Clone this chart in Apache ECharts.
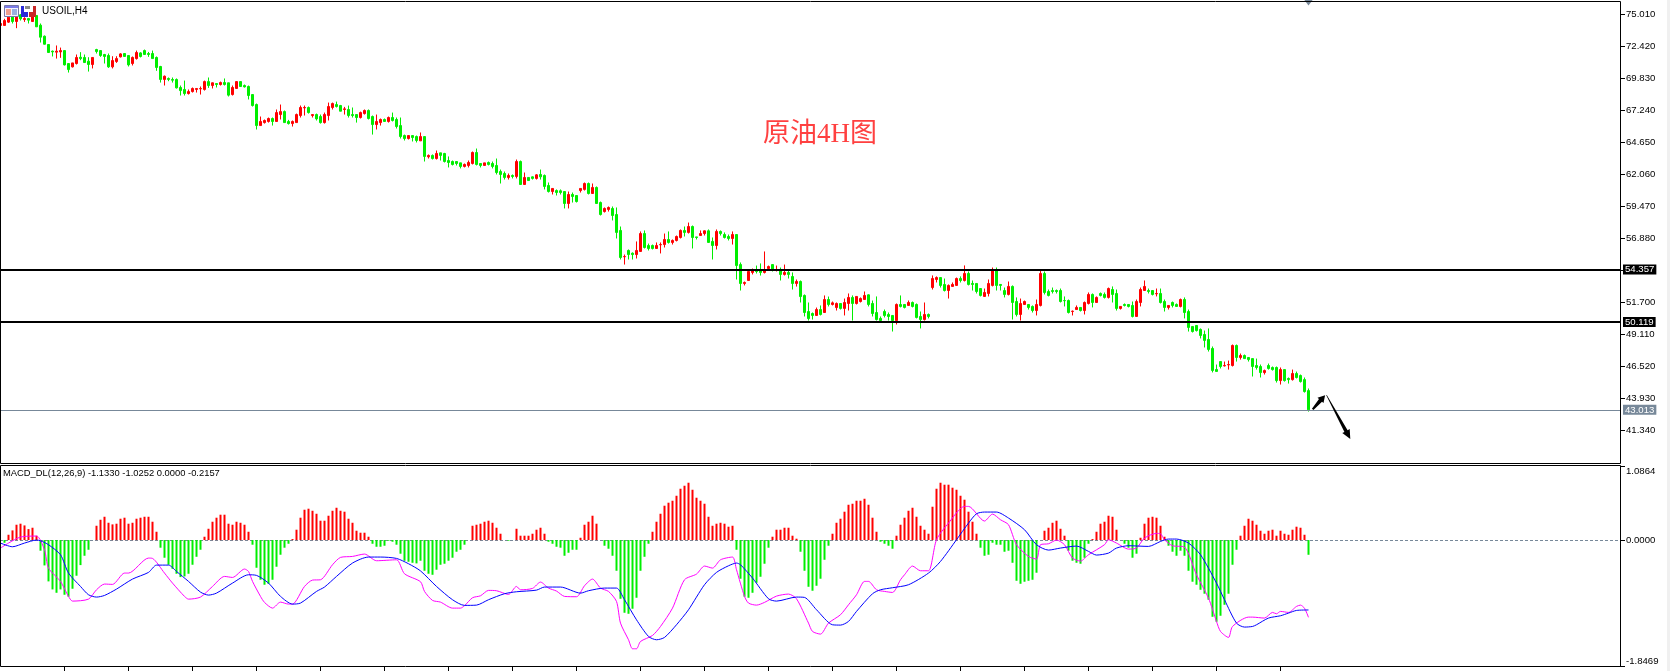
<!DOCTYPE html>
<html>
<head>
<meta charset="utf-8">
<title>USOIL,H4</title>
<style>html,body{margin:0;padding:0;background:#fff;overflow:hidden}#chart{width:1670px;height:671px}</style>
<script src="https://cdn.jsdelivr.net/npm/echarts@6/dist/echarts.min.js"></script>
</head>
<body>
<div id="chart"></div>
<script>
// Four-hour USOIL candles, each row is [open, close, low, high].
const candles = [
[74.12,74.28,74.12,74.39],[74.12,74.52,74.12,74.66],[74.39,74.79,74.33,74.87],[74.87,74.44,74.28,74.93],[74.44,74.87,73.90,74.93],
[74.98,74.66,74.52,75.03],[74.60,74.68,74.41,74.79],[74.68,74.55,74.28,74.68],[74.44,74.87,74.44,75.09],[74.93,74.01,74.01,74.93],
[74.14,73.17,72.74,74.28],[73.25,72.60,72.58,73.31],[72.58,71.93,71.93,72.58],[72.04,71.98,71.61,72.09],[71.96,72.04,71.44,72.50],
[71.98,72.09,71.50,72.33],[72.09,70.93,70.88,72.09],[71.04,70.55,70.31,71.04],[70.77,71.09,70.72,71.09],[71.04,71.53,70.96,71.77],
[71.55,71.44,71.31,71.96],[71.53,71.12,71.12,71.77],[71.23,70.96,70.39,71.55],[70.96,71.53,70.64,71.53],[72.17,72.01,71.85,72.23],
[72.09,71.69,71.58,72.09],[71.77,71.61,71.04,71.82],[71.69,70.77,70.69,71.85],[70.77,71.28,70.64,71.63],[71.20,71.44,71.09,71.63],
[71.58,71.82,71.53,71.88],[71.85,71.61,71.61,71.85],[71.69,70.93,70.80,71.69],[71.04,71.53,70.88,71.61],[71.44,71.93,71.36,72.09],
[71.90,71.61,71.53,71.96],[72.09,71.77,71.74,72.17],[71.85,71.77,71.58,71.98],[71.85,71.44,71.44,72.09],[71.53,70.72,70.45,71.61],
[70.80,69.75,69.50,70.85],[69.75,70.01,69.26,70.07],[69.83,69.75,69.61,69.91],[69.75,69.69,69.50,69.91],[69.75,69.07,69.02,69.83],
[69.10,68.85,68.45,69.26],[68.94,68.61,68.45,69.66],[68.61,68.77,68.53,68.94],[68.77,69.02,68.69,69.10],[68.94,69.02,68.69,69.02],
[68.99,69.02,68.53,69.18],[68.94,69.58,68.85,69.66],[69.58,69.26,69.07,69.91],[69.26,69.48,69.02,69.50],[69.42,69.34,69.10,69.42],
[69.34,69.50,69.26,69.58],[69.50,69.34,69.26,69.83],[69.48,68.48,68.37,69.48],[68.53,69.10,68.45,69.26],[69.02,69.58,69.02,69.58],
[69.58,69.18,69.18,69.58],[69.26,69.15,69.10,69.34],[69.18,68.45,68.13,69.26],[68.53,67.64,67.56,68.53],[67.72,66.02,65.70,67.80],
[66.02,66.35,66.02,66.75],[66.26,66.43,66.18,66.51],[66.35,66.59,66.26,66.67],[66.59,66.35,66.02,66.67],[66.35,67.07,66.35,67.32],
[66.91,67.15,66.51,67.72],[67.15,66.26,66.26,67.24],[66.35,66.18,66.10,66.48],[66.18,66.35,65.94,66.43],[66.26,66.91,66.26,66.99],
[66.83,67.48,66.67,67.64],[67.45,67.48,66.83,67.64],[67.48,67.07,66.99,67.56],[66.83,66.91,66.67,66.91],[66.91,66.56,66.43,66.99],
[66.75,66.26,66.18,66.91],[66.26,66.91,66.18,67.07],[66.83,67.56,66.43,67.88],[67.48,67.80,67.32,67.88],[67.72,67.56,67.48,67.96],
[67.64,67.18,67.18,67.69],[67.32,67.37,66.91,67.53],[67.32,66.83,66.67,67.64],[66.91,66.83,66.67,67.48],[66.91,66.67,66.26,66.91],
[66.67,67.07,66.59,67.15],[66.99,67.24,66.91,67.32],[67.24,66.59,66.51,67.32],[66.75,66.10,65.29,66.83],[66.10,66.35,65.70,66.91],
[66.26,66.51,66.02,66.59],[66.51,66.35,66.35,66.59],[66.35,66.67,66.26,66.75],[66.67,66.43,66.35,67.07],[66.51,65.94,65.78,66.67],
[66.02,65.13,64.97,66.67],[65.21,64.97,64.81,65.29],[64.97,65.21,64.89,65.21],[65.21,65.05,64.73,65.21],[65.13,64.81,64.65,65.21],
[64.78,65.13,64.78,65.46],[65.13,63.52,63.11,65.13],[63.49,63.60,63.35,63.68],[63.60,63.35,63.27,63.68],[63.35,63.76,63.27,64.00],
[63.81,63.60,63.19,63.81],[63.76,63.11,63.03,63.81],[63.19,63.03,62.63,63.52],[63.11,62.87,62.79,63.19],[63.11,62.95,62.79,63.11],
[63.00,62.71,62.55,63.00],[62.71,62.87,62.63,62.95],[62.79,63.03,62.63,63.19],[62.95,63.84,62.87,63.92],[63.84,62.87,62.79,64.16],
[62.95,62.79,62.63,62.95],[62.79,63.00,62.79,63.00],[63.03,62.87,62.79,63.11],[62.95,62.71,62.55,63.11],[62.79,62.22,62.06,63.35],
[62.30,62.06,61.33,62.46],[62.14,61.82,61.65,62.30],[61.82,61.98,61.65,62.14],[61.98,61.90,61.74,62.06],[61.90,63.11,61.74,63.27],
[63.11,61.25,61.25,63.19],[61.25,61.82,61.25,62.22],[61.82,61.57,61.57,61.82],[61.87,61.74,61.65,61.90],[61.74,62.03,61.65,62.09],
[62.06,61.87,61.65,62.46],[61.98,61.09,60.85,62.06],[61.17,60.68,60.60,61.41],[60.68,60.93,60.44,60.93],[60.76,60.60,60.36,60.85],
[60.74,60.60,60.44,60.85],[60.68,59.71,59.31,60.68],[59.71,60.44,59.31,60.68],[60.44,60.28,59.79,60.60],[60.36,59.87,59.79,60.36],
[60.76,60.93,60.60,60.93],[60.85,61.33,60.76,61.41],[61.33,60.52,60.44,61.41],[60.52,61.01,60.52,61.33],[61.01,59.71,59.71,61.09],
[59.79,58.82,58.74,59.87],[59.06,59.31,58.98,59.39],[59.23,59.39,59.06,59.47],[59.31,58.74,58.34,59.47],[58.82,57.37,56.88,59.39],
[57.53,55.34,55.18,57.85],[55.40,55.42,54.77,55.58],[55.91,55.58,55.18,55.99],[55.69,55.58,55.18,55.75],[55.58,55.91,55.26,56.64],
[55.83,57.28,55.83,57.45],[57.28,56.15,56.07,57.53],[56.31,56.07,55.91,56.47],[56.31,56.07,55.99,56.39],[56.07,56.31,56.07,56.56],
[56.37,56.39,55.67,56.56],[56.39,56.80,56.15,57.28],[56.80,56.56,56.47,57.45],[56.56,56.72,56.39,56.80],[56.72,57.04,56.64,57.12],
[56.96,57.53,56.88,57.61],[57.53,57.37,57.04,57.85],[57.37,57.85,57.28,58.17],[57.85,56.96,56.07,57.93],[57.01,56.96,56.80,57.01],
[57.12,57.28,57.12,57.53],[57.28,57.50,57.12,57.53],[57.50,56.56,56.56,57.61],[56.64,56.31,55.18,56.96],[56.31,57.45,55.99,57.61],
[57.45,57.28,57.12,57.53],[57.20,56.96,56.88,57.37],[57.04,56.88,56.72,57.20],[56.88,57.20,56.39,57.45],[57.20,54.69,53.56,57.20],
[54.77,53.24,52.67,54.94],[53.24,53.32,53.08,53.40],[53.48,54.21,53.48,54.29],[54.13,54.29,53.97,54.45],[54.29,54.21,54.05,54.69],
[54.37,54.13,53.88,54.86],[54.13,54.29,54.05,55.83],[54.45,54.61,54.37,54.69],[54.77,54.37,54.21,54.77],[54.34,54.37,54.21,54.69],
[54.37,53.97,53.48,54.53],[53.97,54.13,53.88,54.77],[54.13,53.97,53.64,54.29],[53.80,53.24,52.75,54.13],[53.24,53.40,52.99,53.56],
[53.40,52.18,51.70,53.48],[52.27,50.89,50.57,52.35],[50.97,50.40,50.24,51.70],[50.81,50.65,50.32,50.89],[50.65,51.13,50.65,51.29],
[51.13,50.73,50.65,51.46],[50.89,51.94,50.89,52.27],[51.94,51.54,51.38,52.18],[51.54,51.67,51.46,51.78],[51.29,51.62,51.05,51.70],
[51.62,51.22,51.13,51.62],[51.22,51.70,50.65,52.02],[51.62,52.11,51.05,52.43],[52.11,51.62,50.24,52.27],[51.62,52.19,51.54,52.19],
[51.78,52.02,51.70,52.11],[51.94,52.27,51.94,52.59],[52.32,51.54,51.38,52.35],[51.62,50.81,50.57,51.86],[50.89,50.32,50.24,52.19],
[50.41,50.24,50.24,50.57],[50.97,50.65,50.49,51.13],[50.73,50.57,50.24,50.89],[50.65,50.24,49.35,50.65],[50.24,51.54,49.92,51.62],
[51.54,51.38,51.30,52.27],[51.54,51.30,51.22,51.54],[51.46,51.70,51.46,51.86],[51.70,51.38,51.30,51.78],[51.54,50.49,50.41,51.62],
[50.57,50.32,49.60,50.97],[50.32,50.73,50.24,51.70],[50.73,50.57,50.41,50.81],[52.91,53.64,52.75,53.89],[53.56,53.72,53.32,53.81],
[53.72,53.08,52.91,53.72],[53.16,52.67,52.59,53.64],[52.67,53.08,52.02,53.16],[53.00,53.16,53.00,53.32],[53.08,53.64,53.08,53.72],
[53.64,53.48,53.32,53.81],[53.48,54.05,53.40,54.70],[54.05,53.16,53.08,54.21],[53.24,53.16,52.67,53.48],[53.24,52.59,52.43,53.24],
[52.83,52.27,52.19,52.83],[52.19,52.51,52.19,52.83],[52.43,53.24,52.19,53.56],[53.08,54.37,53.00,54.53],[54.37,53.08,52.67,54.53],
[53.16,53.08,52.67,53.16],[52.67,52.35,52.11,52.91],[52.35,53.00,52.27,53.40],[53.00,51.70,50.32,53.08],[51.78,50.73,50.57,52.11],
[50.73,51.62,50.24,52.02],[51.54,51.78,51.54,51.86],[51.54,51.30,51.13,51.54],[51.38,51.05,50.89,51.46],[51.05,51.54,50.65,51.94],
[51.46,54.05,51.38,54.29],[54.05,52.51,52.35,54.21],[52.59,52.27,52.19,52.75],[52.67,52.59,52.43,52.91],[52.67,52.59,52.43,52.75],
[52.67,51.78,51.70,52.83],[51.86,51.84,51.38,52.19],[51.86,50.89,50.81,51.94],[50.97,51.00,50.65,51.05],[51.13,51.30,51.13,51.46],
[51.30,51.05,50.97,51.30],[51.05,51.70,50.73,51.78],[51.62,52.35,51.54,52.51],[52.35,51.70,51.30,52.43],[51.70,52.11,51.70,52.19],
[52.43,52.27,52.19,52.51],[52.35,52.11,52.02,52.51],[52.11,52.83,52.02,52.91],[52.75,52.35,51.70,53.00],[52.43,51.22,51.05,52.75],
[51.22,51.38,51.13,51.38],[51.54,51.46,51.38,51.62],[51.54,51.38,51.30,51.54],[51.46,50.57,50.49,51.78],[50.57,51.78,50.57,51.94],
[51.70,52.75,51.38,52.91],[52.67,53.00,52.67,53.48],[52.67,52.59,52.43,52.83],[52.67,52.35,52.27,52.67],[52.40,52.43,52.19,52.83],
[52.43,51.70,51.62,52.83],[51.78,51.30,50.97,51.94],[51.30,51.46,51.13,51.46],[51.70,51.46,51.30,51.78],[51.54,51.38,51.38,51.62],
[51.38,51.94,51.30,52.02],[51.94,50.89,50.41,52.11],[50.97,49.68,49.35,51.13],[49.76,49.35,49.27,49.76],[49.84,49.43,49.35,49.84],
[49.52,49.03,48.79,49.60],[49.11,48.63,48.06,49.43],[48.71,47.90,47.73,49.60],[47.98,46.20,46.04,48.14],[46.28,46.12,46.12,46.68],
[46.92,46.52,46.36,46.92],[46.57,46.60,46.52,46.92],[46.65,46.68,46.27,47.00],[46.60,48.22,46.52,48.30],[48.22,47.25,46.92,48.30],
[47.25,47.41,47.08,47.57],[47.41,47.16,47.16,47.49],[47.25,47.08,46.92,47.25],[47.16,46.52,45.71,47.16],[46.60,46.44,46.27,47.16],
[46.52,46.03,45.63,46.68],[46.03,46.19,45.87,46.27],[46.60,46.36,46.27,46.76],[46.44,46.27,46.19,46.52],[46.44,45.38,45.22,46.52],
[45.38,46.27,45.06,46.44],[46.27,45.38,45.30,46.27],[45.55,45.46,45.14,45.63],[45.46,45.95,45.38,46.27],[45.95,45.63,45.55,46.11],
[45.79,45.30,45.22,45.87],[45.46,44.49,44.41,45.63],[44.57,43.013,42.87,44.74]
];

// MACD histogram, one value per candle.
const histogram = [
0,-0.039,0.078,0.142,0.225,0.240,0.215,0.161,0.181,0.064,-0.156,-0.372,-0.606,-0.724,-0.773,-0.724,-0.802,-0.831,-0.714,-0.523,
-0.367,-0.230,-0.142,0,0.210,0.298,0.342,0.254,0.230,0.240,0.313,0.328,0.240,0.254,0.313,0.328,0.342,0.342,0.269,0.122,
-0.112,-0.259,-0.362,-0.421,-0.494,-0.543,-0.533,-0.494,-0.362,-0.245,-0.142,0.049,0.166,0.269,0.328,0.372,0.372,0.240,0.225,0.269,
0.254,0.225,0.122,-0.068,-0.406,-0.582,-0.655,-0.641,-0.582,-0.391,-0.215,-0.112,-0.054,0.015,0.152,0.328,0.445,0.460,0.430,0.386,
0.284,0.284,0.357,0.430,0.474,0.430,0.416,0.313,0.254,0.137,0.108,0.108,0.049,-0.054,-0.098,-0.098,-0.083,-0.010,-0.024,-0.068,
-0.200,-0.303,-0.318,-0.333,-0.342,-0.303,-0.450,-0.494,-0.509,-0.435,-0.362,-0.347,-0.303,-0.259,-0.171,-0.142,-0.068,0,0.210,0.225,
0.240,0.269,0.284,0.254,0.181,0.093,0,-0.010,0,0.166,0.064,0.064,0.064,0.093,0.152,0.181,0.093,-0.024,-0.054,-0.098,
-0.112,-0.230,-0.186,-0.142,-0.142,0.034,0.225,0.269,0.357,0.240,0,-0.083,-0.127,-0.230,-0.450,-0.861,-1.066,-1.081,-1.007,-0.846,
-0.450,-0.245,-0.054,0.122,0.269,0.386,0.504,0.548,0.577,0.650,0.753,0.797,0.841,0.738,0.621,0.577,0.533,0.342,0.210,0.240,
0.254,0.240,0.196,0.210,-0.142,-0.567,-0.831,-0.846,-0.773,-0.626,-0.538,-0.347,-0.112,0.049,0.152,0.152,0.181,0.181,0.064,0.020,
-0.171,-0.450,-0.685,-0.743,-0.670,-0.567,-0.289,-0.083,0.093,0.254,0.313,0.416,0.518,0.533,0.577,0.577,0.606,0.518,0.328,0.122,
-0.024,-0.054,-0.083,-0.127,0.064,0.225,0.328,0.430,0.474,0.342,0.210,0.152,0.093,0.489,0.753,0.841,0.812,0.812,0.768,0.738,
0.650,0.592,0.416,0.269,0.093,-0.112,-0.230,-0.215,-0.039,-0.068,-0.068,-0.171,-0.156,-0.333,-0.597,-0.641,-0.611,-0.597,-0.582,-0.479,
0,0.137,0.181,0.254,0.284,0.166,0.064,-0.156,-0.303,-0.333,-0.347,-0.259,-0.054,0.015,0.122,0.240,0.269,0.357,0.342,0.152,
0,-0.054,-0.112,-0.259,-0.200,0.034,0.240,0.328,0.342,0.328,0.210,0.049,-0.083,-0.171,-0.230,-0.156,-0.230,-0.450,-0.611,-0.655,
-0.729,-0.787,-0.875,-1.125,-1.198,-1.110,-0.949,-0.787,-0.362,-0.142,0.064,0.210,0.313,0.284,0.225,0.137,0.093,0.137,0.152,0.064,
0.137,0.093,0.078,0.152,0.196,0.181,0.078,-0.2157
];

// MACD main line, as [candle index, value].
const macdLine = [
[0,-0.117],[2,-0.044],[5,0.044],[9,0.059],[11,-0.142],[12,-0.411],[15,-0.606],[17,-0.826],[18,-0.895],[22,-0.866],[24,-0.729],[26,-0.645],[28,-0.650],
[31,-0.484],[32,-0.484],[37,-0.264],[38,-0.269],[41,-0.484],[43,-0.631],[46,-0.826],[47,-0.866],[50,-0.836],[53,-0.680],[56,-0.533],[58,-0.548],
[61,-0.425],[62,-0.460],[63,-0.606],[65,-0.826],[66,-0.914],[68,-0.998],[70,-0.910],[72,-0.939],[73,-0.939],[76,-0.680],[78,-0.587],[80,-0.582],
[83,-0.362],[85,-0.254],[88,-0.240],[91,-0.205],[94,-0.303],[99,-0.289],[101,-0.494],[105,-0.611],[106,-0.753],[108,-0.885],[110,-0.910],[113,-0.998],
[115,-0.998],[116,-0.963],[118,-0.846],[120,-0.817],[122,-0.738],[124,-0.743],[127,-0.797],[129,-0.680],[130,-0.729],[133,-0.709],[135,-0.616],
[137,-0.704],[139,-0.748],[141,-0.826],[144,-0.831],[146,-0.670],[148,-0.572],[150,-0.704],[152,-0.753],[154,-0.900],[155,-1.218],[157,-1.462],
[158,-1.594],[159,-1.594],[160,-1.487],[163,-1.399],[165,-1.267],[168,-0.998],[171,-0.582],[174,-0.499],[176,-0.381],[178,-0.411],[180,-0.289],
[183,-0.249],[184,-0.435],[186,-0.826],[187,-0.924],[189,-0.954],[191,-0.914],[194,-0.822],[197,-0.792],[199,-0.861],[202,-1.218],[203,-1.340],
[205,-1.379],[207,-1.218],[210,-1.095],[212,-0.949],[214,-0.802],[216,-0.606],[217,-0.606],[219,-0.729],[221,-0.753],[223,-0.768],[225,-0.582],
[226,-0.509],[228,-0.381],[230,-0.450],[232,-0.450],[234,0.005],[237,0.249],[241,0.494],[242,0.494],[246,0.279],[248,0.381],[250,0.298],[252,0.225],
[254,-0.068],[257,-0.240],[259,-0.279],[260,-0.068],[262,-0.054],[264,0],[266,-0.068],[268,-0.264],[270,-0.308],[272,-0.215],[276,-0.068],[277,0.005],
[279,-0.044],[282,-0.132],[284,-0.117],[286,0.029],[289,0.098],[290,0.093],[291,0.005],[293,-0.083],[296,-0.103],[299,-0.509],[302,-0.851],[304,-1.193],
[305,-1.340],[307,-1.428],[308,-1.267],[312,-1.130],[313,-1.130],[316,-1.144],[318,-1.061],[319,-1.081],[320,-1.046],[322,-1.061],[324,-0.973],
[325,-0.954],[326,-1.000],[327,-1.133]
];

// MACD signal line, as [candle index, value].
const signalLine = [
[0,-0.044],[3,-0.098],[6,-0.044],[9,0],[10,-0.010],[12,-0.068],[15,-0.215],[17,-0.484],[20,-0.680],[22,-0.802],[24,-0.836],[26,-0.812],[29,-0.719],
[33,-0.572],[37,-0.474],[39,-0.367],[42,-0.367],[44,-0.460],[47,-0.606],[50,-0.763],[52,-0.807],[54,-0.778],[58,-0.631],[62,-0.509],[64,-0.518],
[67,-0.631],[70,-0.826],[73,-0.939],[75,-0.924],[79,-0.753],[81,-0.689],[84,-0.533],[88,-0.337],[92,-0.249],[95,-0.249],[99,-0.269],[102,-0.347],
[105,-0.452],[109,-0.680],[113,-0.875],[116,-0.958],[119,-0.954],[122,-0.875],[126,-0.787],[129,-0.758],[134,-0.734],[136,-0.689],[140,-0.689],
[145,-0.778],[147,-0.743],[151,-0.704],[154,-0.704],[156,-0.875],[159,-1.169],[162,-1.413],[164,-1.462],[166,-1.428],[169,-1.242],[172,-1.022],
[176,-0.655],[179,-0.474],[182,-0.377],[184,-0.337],[185,-0.362],[188,-0.557],[192,-0.861],[194,-0.895],[199,-0.836],[201,-0.841],[204,-1.022],
[208,-1.242],[210,-1.247],[212,-1.193],[214,-1.046],[218,-0.787],[220,-0.729],[223,-0.699],[227,-0.655],[232,-0.484],[235,-0.313],[239,0.005],
[242,0.249],[244,0.386],[246,0.411],[249,0.411],[252,0.323],[256,0.152],[259,-0.068],[262,-0.147],[265,-0.117],[269,-0.088],[272,-0.166],[274,-0.220],
[277,-0.191],[279,-0.117],[282,-0.083],[287,-0.093],[290,-0.020],[292,0.015],[294,0.015],[297,-0.044],[300,-0.215],[304,-0.631],[306,-0.875],
[309,-1.218],[311,-1.276],[313,-1.267],[314,-1.242],[317,-1.144],[320,-1.110],[322,-1.071],[324,-1.032],[327,-1.0252]
];

// Tick labels of the two price scales and the time ticks along the bottom.
const priceTicks = [41.340,43.930,46.520,49.110,51.700,54.290,56.880,59.470,62.060,64.650,67.240,69.830,72.420,75.010];
const macdTicks = [-1.8469,0,1.0864];
const timeTicks = [16,32,48,64,80,96,112,128,144,160,176,192,208,224,240,256,272,288,304,320];

// Horizontal price levels: two drawn resistance/support lines and the last price.
const resistance = 54.357;
const support = 50.119;
const lastPrice = 43.013;

// Hand-drawn projection arrows: [fromIndex, fromPrice, toIndex, toPrice].
const arrows = [[328.05,43.05,331.15,44.2],[331.5,44.2,337.45,40.65]];

const UP = '#ff0000', DOWN = '#00ee00', SLATE = '#778899';
const AXIS_FONT = {fontFamily:'"Liberation Sans",Arial,sans-serif', fontSize:9.6, color:'#000'};
const LABEL_FONT = {fontFamily:'"Liberation Sans",Arial,sans-serif', fontSize:9.6};

function levelLine(value, color, width, bg) {
  return {
    yAxis: value,
    lineStyle: {color: color, width: width, type: 'solid'},
    label: {
      show: true, position: 'end', distance: 3, formatter: value.toFixed(3),
      color: '#fff', backgroundColor: bg, padding: [1, 2, 0, 2], lineHeight: 9,
      fontFamily: LABEL_FONT.fontFamily, fontSize: LABEL_FONT.fontSize
    }
  };
}

// Tapered arrow polygon between two data points.
function renderArrow(params, api) {
  const a = api.coord([api.value(0), api.value(1)]);
  const b = api.coord([api.value(2), api.value(3)]);
  const dx = b[0]-a[0], dy = b[1]-a[1], len = Math.hypot(dx, dy);
  const ux = dx/len, uy = dy/len, nx = -uy, ny = ux;
  const big = len > 25;
  const head = big ? 9 : 7, wing = big ? 4.2 : 4, neck = big ? 1.8 : 2, tail = big ? 0.3 : 1;
  const nk = [b[0]-ux*head, b[1]-uy*head];
  return {
    type: 'polygon',
    shape: {points: [
      [a[0]+nx*tail, a[1]+ny*tail], [nk[0]+nx*neck, nk[1]+ny*neck], [nk[0]+nx*wing, nk[1]+ny*wing], b,
      [nk[0]-nx*wing, nk[1]-ny*wing], [nk[0]-nx*neck, nk[1]-ny*neck], [a[0]-nx*tail, a[1]-ny*tail]
    ]},
    style: {fill: '#000'}
  };
}

const chart = echarts.init(document.getElementById('chart'), null, {renderer: 'canvas'});

// One candle slot is 4px wide, so both time axes run across the same span.
const xMin = -0.125, xMax = 404.875;

chart.setOption({
  animation: false,
  backgroundColor: '#fff',
  grid: [
    {left: 0, width: 1620, top: 1, height: 462, outerBoundsMode: 'none'},
    {left: 0, width: 1620, top: 466, height: 200, outerBoundsMode: 'none'}
  ],
  xAxis: [
    {type: 'value', gridIndex: 0, min: xMin, max: xMax, show: false, splitLine: {show: false}, axisLine: {onZero: false}},
    {type: 'value', gridIndex: 1, min: xMin, max: xMax, position: 'bottom', splitLine: {show: false},
     axisLine: {show: false, onZero: false}, axisLabel: {show: false},
     axisTick: {show: true, length: 5, lineStyle: {color: '#000'}, customValues: timeTicks}}
  ],
  yAxis: [
    {type: 'value', gridIndex: 0, position: 'right', min: 38.71, max: 76.10, splitLine: {show: false},
     axisLine: {show: false, onZero: false},
     axisTick: {show: true, length: 5, lineStyle: {color: '#000'}, customValues: priceTicks},
     axisLabel: Object.assign({show: true, margin: 6, padding: [2, 0, 0, 0], customValues: priceTicks, formatter: v => v.toFixed(3)}, AXIS_FONT)},
    {type: 'value', gridIndex: 1, position: 'right', min: -1.8469, max: 1.0864, splitLine: {show: false},
     axisLine: {show: false, onZero: false},
     axisTick: {show: true, length: 5, lineStyle: {color: '#000'}, customValues: macdTicks},
     axisLabel: Object.assign({show: true, margin: 6, customValues: macdTicks, formatter: v => v.toFixed(4),
       verticalAlignMinLabel: 'bottom', verticalAlignMaxLabel: 'top'}, AXIS_FONT)}
  ],
  series: [
    {
      type: 'candlestick', xAxisIndex: 0, yAxisIndex: 0, barWidth: 2, z: 2,
      data: candles.map((c, i) => [i, c[0], c[1], c[2], c[3]]),
      itemStyle: {color: UP, color0: DOWN, borderColor: UP, borderColor0: DOWN, borderWidth: 1},
      markLine: {
        silent: true, symbol: 'none', z: 6, animation: false,
        data: [levelLine(resistance, '#000', 2, '#000'), levelLine(support, '#000', 2, '#000'), levelLine(lastPrice, SLATE, 1, SLATE)]
      },
      markPoint: {
        silent: true, symbol: 'triangle', symbolRotate: 180, symbolSize: [9, 6], animation: false,
        itemStyle: {color: SLATE}, label: {show: false},
        data: [{coord: [candles.length-1, 75.98]}]
      }
    },
    {
      type: 'custom', xAxisIndex: 0, yAxisIndex: 0, z: 7, clip: false, silent: true,
      renderItem: renderArrow, encode: {x: [0, 2], y: [1, 3]}, data: arrows
    },
    {
      type: 'bar', xAxisIndex: 1, yAxisIndex: 1, barWidth: 2, z: 3,
      data: histogram.map((v, i) => ({value: [i, v], itemStyle: {color: v >= 0 ? UP : DOWN}})),
      markLine: {
        silent: true, symbol: 'none', z: 1, animation: false, label: {show: false},
        lineStyle: {color: SLATE, width: 1, type: [3, 2]}, data: [{yAxis: 0}]
      }
    },
    {type: 'line', xAxisIndex: 1, yAxisIndex: 1, data: macdLine, showSymbol: false, z: 4, silent: true,
     smooth: 0.25, lineStyle: {color: '#ff00ff', width: 1}},
    {type: 'line', xAxisIndex: 1, yAxisIndex: 1, data: signalLine, showSymbol: false, z: 5, silent: true,
     smooth: 0.25, lineStyle: {color: '#0000ff', width: 1}}
  ],
  graphic: [
    // pane frames and the strip at the window edge
    {type: 'rect', z: 20, silent: true, shape: {x: 0.5, y: 1.5, width: 1620, height: 462}, style: {fill: 'none', stroke: '#000', lineWidth: 1}},
    {type: 'rect', z: 20, silent: true, shape: {x: 0.5, y: 465.5, width: 1620, height: 201}, style: {fill: 'none', stroke: '#000', lineWidth: 1}},
    {type: 'rect', z: 20, silent: true, shape: {x: 1667, y: 0, width: 3, height: 671}, style: {fill: '#f0f0f0'}},
    // toolbar icons beside the symbol name
    {type: 'rect', z: 21, silent: true, shape: {x: 4.5, y: 5.5, width: 14, height: 11}, style: {fill: '#f4f4ff', stroke: '#7878a8', lineWidth: 1}},
    {type: 'rect', z: 21, silent: true, shape: {x: 5, y: 6, width: 13, height: 2}, style: {fill: '#7c7ce8'}},
    {type: 'rect', z: 21, silent: true, shape: {x: 6, y: 9, width: 5, height: 6}, style: {fill: '#f0a090'}},
    {type: 'rect', z: 21, silent: true, shape: {x: 12, y: 9, width: 5, height: 6}, style: {fill: '#9ab0e0'}},
    {type: 'rect', z: 21, silent: true, shape: {x: 21, y: 6, width: 3, height: 8}, style: {fill: '#2a2ad8'}},
    {type: 'rect', z: 21, silent: true, shape: {x: 21, y: 12, width: 7, height: 5}, style: {fill: '#2a2ad8'}},
    {type: 'rect', z: 21, silent: true, shape: {x: 25, y: 6, width: 5, height: 3}, style: {fill: '#888888'}},
    {type: 'rect', z: 21, silent: true, shape: {x: 33, y: 6, width: 3, height: 8}, style: {fill: '#c82828'}},
    {type: 'rect', z: 21, silent: true, shape: {x: 29, y: 12, width: 7, height: 5}, style: {fill: '#c82828'}},
    // pane captions and the chart heading
    {type: 'text', z: 21, silent: true, x: 42, y: 6, style: {text: 'USOIL,H4', fill: '#000', fontFamily: LABEL_FONT.fontFamily, fontSize: 10}},
    {type: 'text', z: 21, silent: true, x: 3, y: 469, style: {text: 'MACD_DL(12,26,9) -1.1330 -1.0252 0.0000 -0.2157', fill: '#000', fontFamily: LABEL_FONT.fontFamily, fontSize: 9.4}},
    {type: 'text', z: 21, silent: true, x: 763, y: 121, style: {text: '原油4H图', fill: '#ff4040', fontFamily: '"Liberation Serif","Noto Sans CJK SC",serif', fontSize: 27}}
  ]
});
</script>
</body>
</html>
